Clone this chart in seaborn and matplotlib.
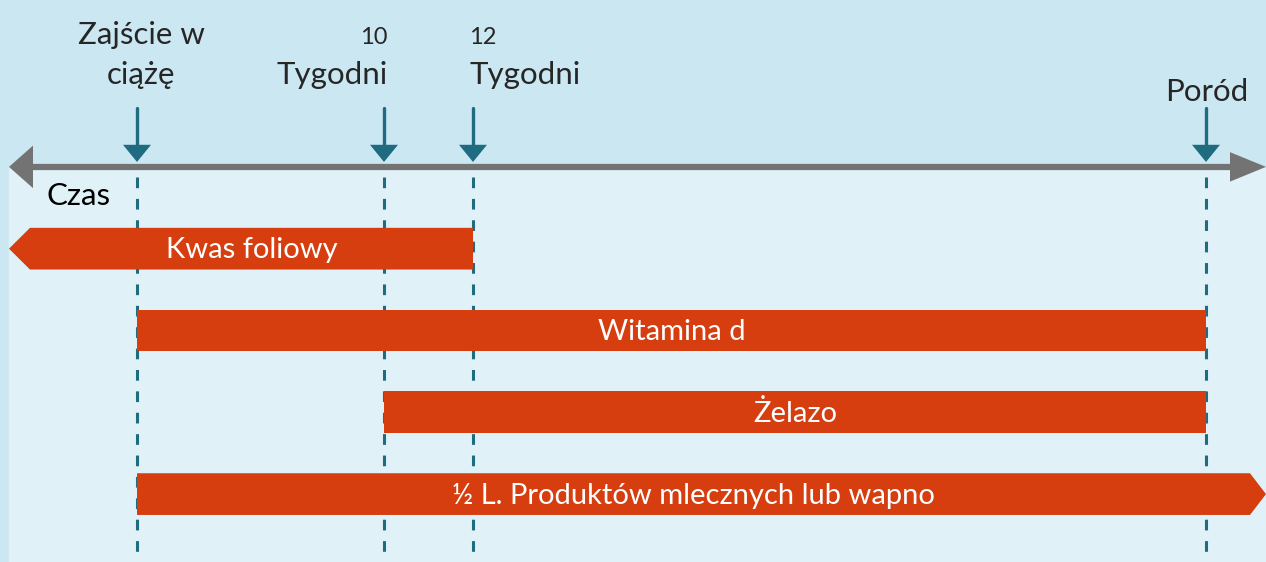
import numpy as np
import pandas as pd
import seaborn as sns
import matplotlib.pyplot as plt
from matplotlib.patches import Polygon

# %%
# pozycje zdarzeń na osi czasu (jednostki schematu osi)
zdarzenia = ['Zajście w\nciążę', '10\nTygodni', '12\nTygodni', 'Poród']
zdarzenia_x = [137, 384, 473, 1206]

# suplementy: początek / koniec na osi czasu, strzałka z lewej / prawej
suplementy = ['Kwas foliowy', 'Witamina d', 'Żelazo', '½ L. Produktów mlecznych lub wapno']
pocz = [9, 137, 384, 137]
kon = [473, 1206, 1206, 1266]
strz_lewo = [True, False, False, False]
strz_prawo = [False, False, False, True]

os_min, os_max = 9, 1266

# %%
sns.set_theme(style='white')
plt.rcParams['font.family'] = ['Lato', 'DejaVu Sans']

TLO_GORA = '#cbe7f2'
TLO_DOL = '#e0f1f8'
POMARANCZ = '#d63d0f'
MORSKI = '#1f6b80'
SZARY = '#737373'

fig = plt.figure(figsize=(12.66, 5.62), dpi=100, facecolor=TLO_GORA)
ax = fig.add_axes([0, 0, 1, 1])
ax.set_xlim(0, 1266)
ax.set_ylim(3.83, -3.04)  # wiersze suplementów 0..3, oś czasu na -1
ax.axis('off')

# jaśniejsze tło pod osią
ax.add_patch(plt.Rectangle((os_min, -1), 1266, 6, color=TLO_DOL, zorder=0))

# linie przerywane od zdarzeń
for x in zdarzenia_x:
    ax.plot([x, x], [-0.88, 3.83], color=MORSKI, lw=2.2, ls=(0, (3.5, 3.5)), zorder=1)

# belki suplementów
h = 0.51
for i, nazwa in enumerate(suplementy):
    x0, x1 = pocz[i], kon[i]
    lew = x0 + 21 if strz_lewo[i] else x0
    pra = x1 - 16 if strz_prawo[i] else x1
    pts = [(lew, i - h / 2), (pra, i - h / 2)]
    if strz_prawo[i]:
        pts.append((x1, i))
    pts += [(pra, i + h / 2), (lew, i + h / 2)]
    if strz_lewo[i]:
        pts.append((x0, i))
    ax.add_patch(Polygon(pts, closed=True, color=POMARANCZ, lw=0, zorder=2))
    ax.text((lew + pra) / 2, i + 0.02, nazwa, color='white', fontsize=21,
            ha='center', va='center', zorder=3)

# oś czasu
ax.plot([os_min + 20, os_max - 30], [-1, -1], color=SZARY, lw=4.5, solid_capstyle='butt', zorder=3)
ax.add_patch(Polygon([(os_min, -1), (os_min + 24, -1.26), (os_min + 24, -0.74)],
                     closed=True, color=SZARY, lw=0, zorder=3))
ax.add_patch(Polygon([(os_max, -1), (os_max - 36, -1.18), (os_max - 36, -0.82)],
                     closed=True, color=SZARY, lw=0, zorder=3))
ax.text(47, -0.54, 'Czas', fontsize=22.5, color='black', ha='left', va='baseline')

# strzałki zdarzeń
for x in zdarzenia_x:
    ax.plot([x, x], [-1.72, -1.25], color=MORSKI, lw=2.4, zorder=4)
    ax.add_patch(Polygon([(x - 14, -1.27), (x + 14, -1.27), (x, -1.06)],
                         closed=True, color=MORSKI, lw=0, zorder=4))

# opisy zdarzeń
ax.text(zdarzenia_x[0] + 4, -2.5, 'Zajście w', fontsize=22.5, ha='center', va='baseline')
ax.text(zdarzenia_x[0] + 4, -2.01, 'ciążę', fontsize=22.5, ha='center', va='baseline')
ax.text(zdarzenia_x[1] + 4, -2.5, '10', fontsize=17, ha='right', va='baseline')
ax.text(zdarzenia_x[1] + 4, -2.01, 'Tygodni', fontsize=22.5, ha='right', va='baseline')
ax.text(zdarzenia_x[2] - 4, -2.5, '12', fontsize=17, ha='left', va='baseline')
ax.text(zdarzenia_x[2] - 4, -2.01, 'Tygodni', fontsize=22.5, ha='left', va='baseline')
ax.text(zdarzenia_x[3] + 1, -1.81, 'Poród', fontsize=22.5, ha='center', va='baseline')

fig.savefig('out.png', dpi=100, facecolor=TLO_GORA)
